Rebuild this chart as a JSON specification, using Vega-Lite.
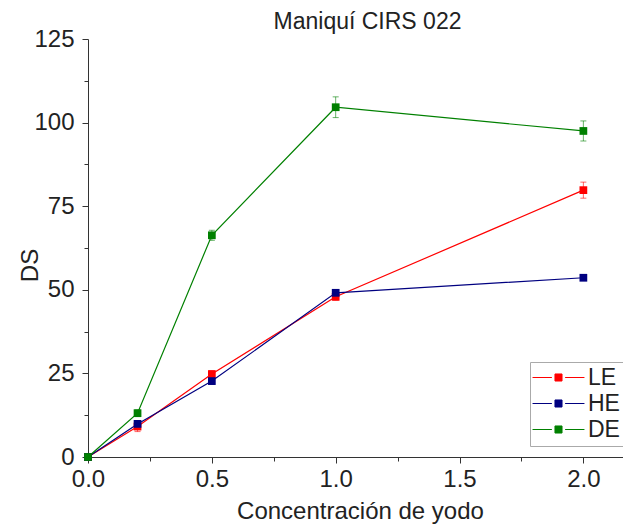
{
  "$schema": "https://vega.github.io/schema/vega-lite/v6.json",
  "autosize": "none",
  "width": 535,
  "height": 418,
  "padding": {"left": 88, "top": 39, "right": 0, "bottom": 70},
  "background": "white",
  "config": {
    "font": "Liberation Sans",
    "view": {"stroke": null},
    "axis": {"grid": false, "domainColor": "#333", "tickColor": "#333", "labelColor": "#222", "titleColor": "#222", "labelFontSize": 24, "titleFontSize": 24, "titleFontWeight": "normal", "labelFont": "Liberation Sans", "titleFont": "Liberation Sans", "labelFlush": false, "labelOverlap": false}
  },
  "title": {"text": "Maniquí CIRS 022", "fontSize": 23, "fontWeight": "normal", "font": "Liberation Sans", "color": "#222", "offset": -7, "dx": 12},
  "data": {"values": [
    {"serie": "LE", "x": 0, "y": 0, "ylo": 0, "yhi": 0},
    {"serie": "LE", "x": 0.2, "y": 9.1, "ylo": 7.6, "yhi": 10.6},
    {"serie": "LE", "x": 0.5, "y": 24.8, "ylo": 23.8, "yhi": 25.8},
    {"serie": "LE", "x": 1.0, "y": 47.9, "ylo": 46.9, "yhi": 48.9},
    {"serie": "LE", "x": 2.0, "y": 79.8, "ylo": 77.4, "yhi": 82.2},
    {"serie": "HE", "x": 0, "y": 0, "ylo": 0, "yhi": 0},
    {"serie": "HE", "x": 0.2, "y": 9.9, "ylo": 9.1, "yhi": 10.7},
    {"serie": "HE", "x": 0.5, "y": 22.7, "ylo": 21.7, "yhi": 23.7},
    {"serie": "HE", "x": 1.0, "y": 49.1, "ylo": 48.3, "yhi": 49.9},
    {"serie": "HE", "x": 2.0, "y": 53.6, "ylo": 52.8, "yhi": 54.4},
    {"serie": "DE", "x": 0, "y": 0, "ylo": 0, "yhi": 0},
    {"serie": "DE", "x": 0.2, "y": 13.1, "ylo": 12.1, "yhi": 14.1},
    {"serie": "DE", "x": 0.5, "y": 66.3, "ylo": 64.8, "yhi": 67.8},
    {"serie": "DE", "x": 1.0, "y": 104.6, "ylo": 101.5, "yhi": 107.7},
    {"serie": "DE", "x": 2.0, "y": 97.5, "ylo": 94.5, "yhi": 100.5}
  ]},
  "encoding": {
    "x": {"field": "x", "type": "quantitative", "scale": {"domain": [0, 2.16], "nice": false, "zero": false},
      "axis": {"title": "Concentración de yodo", "values": [0, 0.25, 0.5, 0.75, 1.0, 1.25, 1.5, 1.75, 2.0],
        "labelExpr": "datum.value % 0.5 == 0 ? format(datum.value, '.1f') : ''",
        "tickSize": {"condition": {"test": "datum.value % 0.5 != 0", "value": 4}, "value": 6},
        "labelPadding": 4, "titleX": 272, "titleY": 54, "titleBaseline": "middle", "titleAnchor": "middle", "titleAlign": "center"}},
    "color": {"field": "serie", "type": "nominal", "scale": {"domain": ["LE", "HE", "DE"], "range": ["#ff0000", "#000080", "#008000"]},
      "legend": {"title": null, "orient": "none", "legendX": 442, "legendY": 323,
        "symbolType": "M-2.36,0H-0.6M0.6,0H2.36M-0.32,-0.32H0.32V0.32H-0.32Z", "symbolSize": 484,
        "symbolOffset": 13,
        "labelFontSize": 23, "labelFont": "Liberation Sans", "labelColor": "#222", "strokeColor": "#aaa", "padding": 4, "labelOffset": 18,
        "rowPadding": 2,
        "symbolStrokeWidth": 1,
        "encode": {"symbols": {"update": {"fill": {"scale": "color", "field": "value"}, "stroke": {"scale": "color", "field": "value"}, "strokeWidth": {"value": 1}, "opacity": {"value": 1}}}}}}
  },
  "layer": [
    {"mark": {"type": "line", "strokeWidth": 1.2}, "encoding": {"y": {"field": "y", "type": "quantitative", "scale": {"domain": [0, 125], "nice": false},
      "axis": {"title": "DS", "values": [0, 12.5, 25, 37.5, 50, 62.5, 75, 87.5, 100, 112.5, 125],
        "labelExpr": "datum.value % 25 == 0 ? format(datum.value, 'd') : ''",
        "tickSize": {"condition": {"test": "datum.value % 25 != 0", "value": 4}, "value": 6},
        "labelPadding": 8, "titleX": -58, "titleY": 226, "titleAngle": -90, "titleBaseline": "middle", "titleAlign": "center"}}}},
    {"mark": {"type": "rule", "strokeWidth": 1, "opacity": 0.6}, "encoding": {"y": {"field": "ylo", "type": "quantitative"}, "y2": {"field": "yhi"}}},
    {"mark": {"type": "tick", "orient": "horizontal", "size": 6, "thickness": 1, "opacity": 0.6}, "encoding": {"y": {"field": "yhi", "type": "quantitative"}}},
    {"mark": {"type": "tick", "orient": "horizontal", "size": 6, "thickness": 1, "opacity": 0.6}, "encoding": {"y": {"field": "ylo", "type": "quantitative"}}},
    {"mark": {"type": "point", "shape": "square", "filled": true, "size": 60, "opacity": 1}, "encoding": {"y": {"field": "y", "type": "quantitative"}}}
  ]
}
